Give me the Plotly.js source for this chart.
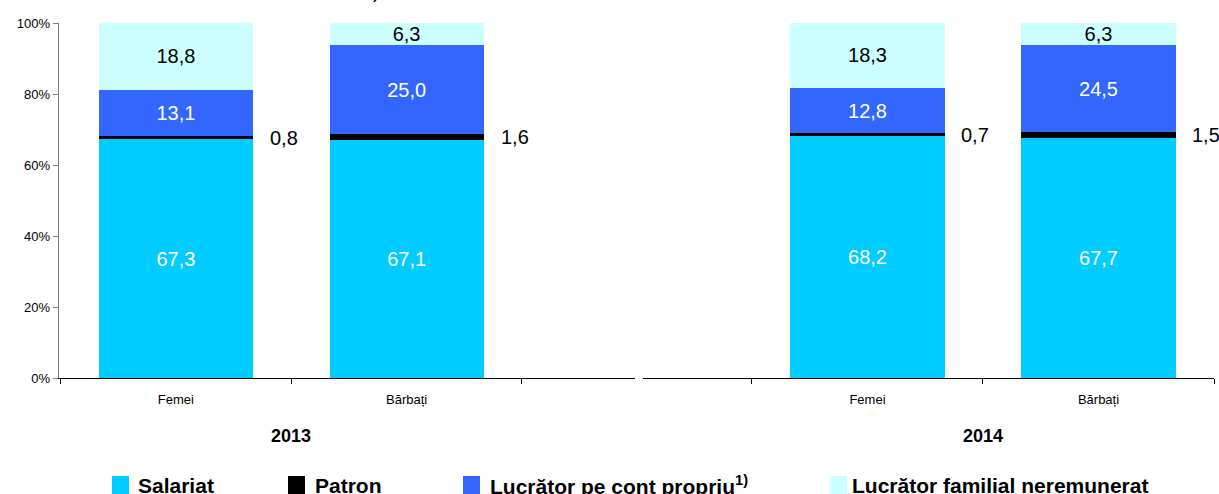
<!DOCTYPE html>
<html><head><meta charset="utf-8">
<script src="https://cdn.plot.ly/plotly-3.0.1.min.js"></script>
<style>html,body{margin:0;padding:0;background:#fff}#chart{width:1219px;height:494px}</style>
</head><body><div id="chart"></div>
<script>
const categories = ['Femei', 'Bărbați'];
const years = ['2013', '2014'];
const seriesNames = ['Salariat', 'Patron', 'Lucrător pe cont propriu', 'Lucrător familial neremunerat'];
const legendLabels = ['Salariat', 'Patron', 'Lucrător pe cont propriu<sup>1)</sup>', 'Lucrător familial neremunerat'];
const salariat2013 = [67.3, 67.1];
const patron2013 = [0.8, 1.6];
const contPropriu2013 = [13.1, 25.0];
const familial2013 = [18.8, 6.3];
const salariat2014 = [68.2, 67.7];
const patron2014 = [0.7, 1.5];
const contPropriu2014 = [12.8, 24.5];
const familial2014 = [18.3, 6.3];
const yTicks = [0, 20, 40, 60, 80, 100];

const colors = ['#00CCFF', '#000000', '#3366FF', '#CCFFFF'];
const labelColors = ['#FFFFFF', '#000000', '#FFFFFF', '#000000'];
const FONT = 'Arial, "Liberation Sans", sans-serif';

const W = 1219, H = 494, T = 23, B = 116, PH = H - T - B;
const px = x => x / W;
const py = y => (H - B - y) / PH;

const dataByYear = [
  [salariat2013, patron2013, contPropriu2013, familial2013],
  [salariat2014, patron2014, contPropriu2014, familial2014]
];

const traces = [];
dataByYear.forEach((series, yi) => {
  const xa = yi === 0 ? 'x' : 'x2';
  const ya = yi === 0 ? 'y' : 'y2';
  series.forEach((vals, si) => {
    const t = {
      type: 'bar', x: categories, y: vals, name: seriesNames[si],
      xaxis: xa, yaxis: ya, width: 0.667,
      marker: {color: colors[si], line: {width: 0}},
      showlegend: false, hoverinfo: 'skip'
    };
    if (si === 1) {
      t.textposition = 'none';
    } else {
      t.texttemplate = '%{y:.1f}';
      t.textposition = 'inside';
      t.insidetextanchor = 'middle';
      t.constraintext = 'none';
      t.textfont = {family: FONT, size: 20, color: labelColors[si]};
    }
    traces.push(t);
  });
});

const annotations = [];
// Patron labels, to the right of the bars
dataByYear.forEach((series, yi) => {
  categories.forEach((c, ci) => {
    annotations.push({
      xref: yi === 0 ? 'x' : 'x2', yref: yi === 0 ? 'y' : 'y2',
      x: c, y: series[0][ci] + series[1][ci] / 2,
      text: series[1][ci].toFixed(1).replace('.', ','),
      showarrow: false, xshift: 108, xanchor: 'center', yanchor: 'middle',
      font: {family: FONT, size: 20, color: '#000'}
    });
  });
  annotations.push({
    xref: yi === 0 ? 'x' : 'x2', yref: 'paper', x: 0.5, y: py(436),
    text: '<b>' + years[yi] + '</b>', showarrow: false, xanchor: 'center', yanchor: 'middle',
    font: {family: FONT, size: 18, color: '#000'}
  });
});

// custom legend (bottom row, slightly cut by the picture edge as in the reference)
const legSwatchX = [112, 288, 463, 830];
const legTextX = [136, 313, 488, 850];
const shapes = [];
seriesNames.forEach((n, i) => {
  shapes.push({type: 'rect', xref: 'paper', yref: 'paper',
    x0: px(legSwatchX[i]), x1: px(legSwatchX[i] + 17), y0: py(494), y1: py(476),
    fillcolor: colors[i], line: {width: 0}});
  annotations.push({xref: 'paper', yref: 'paper', x: px(legTextX[i]), y: py(485),
    text: '<b>' + legendLabels[i] + '</b>', showarrow: false, xanchor: 'left', yanchor: 'middle',
    font: {family: FONT, size: 21, color: '#000'}});
});
// cut-off title remnant at the very top
annotations.push({xref: 'paper', yref: 'paper', x: px(376), y: py(-9), text: ')', showarrow: false,
  xanchor: 'center', yanchor: 'middle', font: {family: FONT, size: 20, color: '#000'}});

const xCommon = {
  type: 'category', tickson: 'boundaries', ticks: 'outside', ticklen: 5, tickcolor: '#000',
  showline: true, linecolor: '#000', linewidth: 1, showgrid: false, zeroline: false,
  tickfont: {family: FONT, size: 13, color: '#000'}, ticklabelstandoff: 9, fixedrange: true
};
const yCommon = {range: [0, 100], fixedrange: true, showgrid: false, zeroline: false};

const layout = {
  width: W, height: H, margin: {l: 0, r: 0, t: T, b: B, pad: 0},
  paper_bgcolor: '#fff', plot_bgcolor: 'rgba(0,0,0,0)',
  barmode: 'stack', separators: ',.', showlegend: false,
  font: {family: FONT, color: '#000'},
  xaxis: Object.assign({}, xCommon, {domain: [px(58.7), px(635)], range: [-0.508, 1.99], anchor: 'y'}),
  xaxis2: Object.assign({}, xCommon, {domain: [px(642.7), px(1214)], range: [-0.973, 1.5], anchor: 'y2'}),
  yaxis: Object.assign({}, yCommon, {
    anchor: 'x', tickvals: yTicks, ticktext: yTicks.map(v => v + '%'),
    ticks: 'outside', ticklen: 5, tickcolor: '#808080', showline: true, linecolor: '#808080',
    tickfont: {family: FONT, size: 13, color: '#000'}
  }),
  yaxis2: Object.assign({}, yCommon, {anchor: 'x2', showticklabels: false, showline: false, ticks: ''}),
  annotations: annotations, shapes: shapes
};

Plotly.newPlot('chart', traces, layout, {displayModeBar: false, staticPlot: true});
</script>
</body></html>
